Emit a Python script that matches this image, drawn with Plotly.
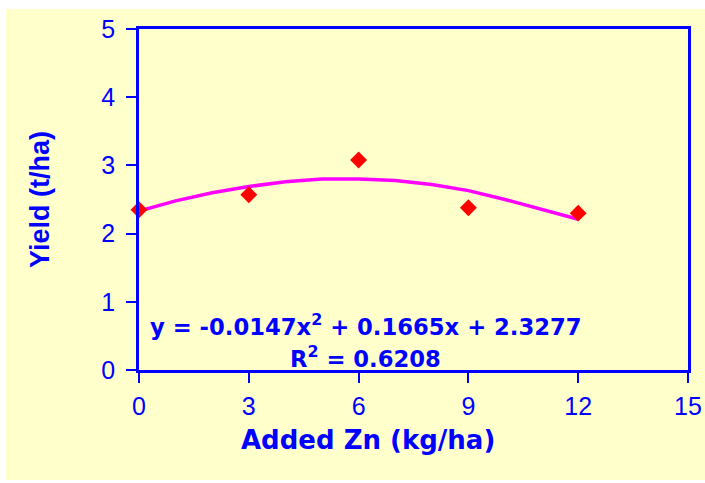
import plotly.graph_objects as go

zn_added = [0, 3, 6, 9, 12]
yield_obs = [2.35, 2.57, 3.08, 2.38, 2.30]

# Trendline points
trend_x = [0, 0.5, 1, 2, 3, 4, 5, 6, 7, 8, 9, 10, 11, 11.5, 12]
trend_y = [2.33, 2.41, 2.48, 2.60, 2.69, 2.76, 2.80, 2.80, 2.78, 2.72, 2.63, 2.50, 2.35, 2.28, 2.21]

x_ticks = [0, 3, 6, 9, 12, 15]
y_ticks = [0, 1, 2, 3, 4, 5]

x_title = "Added Zn (kg/ha)"
y_title = "Yield (t/ha)"
eq_text = "y = -0.0147x<sup>2</sup> + 0.1665x + 2.3277"
r2_text = "R<sup>2</sup> = 0.6208"

BLUE = "#0000FF"
YELLOW = "#FFFFCC"
WIDE_BOLD = "DejaVu Sans, Verdana, sans-serif"
ARIAL = "Liberation Sans, Arial, sans-serif"

W, H = 705, 483
ML, MR, MT, MB = 139, 17, 29, 113
PW, PH = W - ML - MR, H - MT - MB

fig = go.Figure()
fig.add_trace(go.Scatter(x=trend_x, y=trend_y, mode="lines",
                         line=dict(color="#FF00FF", width=3.5),
                         hoverinfo="skip", showlegend=False))
fig.add_trace(go.Scatter(x=zn_added, y=yield_obs, mode="markers",
                         marker=dict(symbol="diamond", size=13, color="#FF0000",
                                     line=dict(width=0)),
                         showlegend=False, cliponaxis=False))

axis_common = dict(showline=True, linecolor=BLUE, linewidth=2.5, mirror=True,
                   ticks="outside", ticklen=10, tickwidth=2, tickcolor=BLUE,
                   showgrid=False, zeroline=False, automargin=False,
                   tickfont=dict(family=ARIAL, size=25, color=BLUE))

fig.update_xaxes(range=[0, 15], tickvals=x_ticks, ticktext=[str(v) for v in x_ticks],
                 ticklabelstandoff=2, **axis_common)
fig.update_yaxes(range=[0, 5], tickvals=y_ticks, ticktext=[str(v) for v in y_ticks],
                 ticklabelstandoff=6,
                 title=dict(text="<b>" + y_title + "</b>", standoff=44,
                            font=dict(family=ARIAL, size=27, color=BLUE)),
                 **axis_common)

# x-axis title (offset left of centre, as in the original)
fig.add_annotation(x=0.417, y=-0.205, xref="paper", yref="paper",
                   text="<b>" + x_title + "</b>", showarrow=False,
                   xanchor="center", yanchor="middle",
                   font=dict(family=WIDE_BOLD, size=26, color=BLUE))

fig.add_annotation(x=0.413, y=0.132, xref="paper", yref="paper", text="<b>" + eq_text + "</b>",
                   showarrow=False, xanchor="center", yanchor="middle",
                   font=dict(family=WIDE_BOLD, size=22.7, color=BLUE))
fig.add_annotation(x=0.413, y=0.038, xref="paper", yref="paper", text="<b>" + r2_text + "</b>",
                   showarrow=False, xanchor="center", yanchor="middle",
                   font=dict(family=WIDE_BOLD, size=22.7, color=BLUE))

# yellow chart-area background inside a thin white border
fig.add_shape(type="rect", xref="paper", yref="paper", layer="below",
              x0=(6 - ML) / PW, x1=(W - ML) / PW,
              y0=(H - MB - 480) / PH, y1=(H - MB - 9) / PH,
              fillcolor=YELLOW, line=dict(width=0))

fig.update_layout(width=W, height=H, paper_bgcolor="white", plot_bgcolor=YELLOW,
                  margin=dict(l=ML, r=MR, t=MT, b=MB, pad=0))

fig.write_html("out.html", config={"displayModeBar": False},
               post_script="document.body.style.margin='0';document.body.style.overflow='hidden';")
